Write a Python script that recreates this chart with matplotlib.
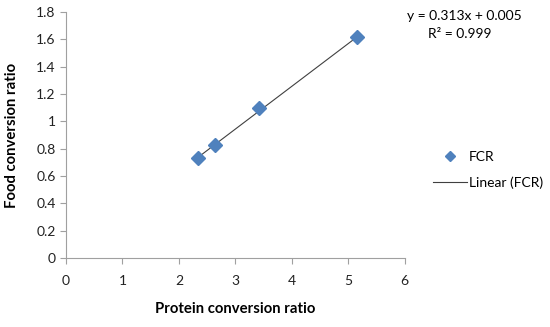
import matplotlib.pyplot as plt
import numpy as np

plt.rcParams['font.family'] = ['Lato', 'DejaVu Sans']

protein = [2.33, 2.63, 3.42, 5.16]
fcr = [0.73, 0.83, 1.10, 1.62]
slope, intercept = 0.313, 0.005
x_ticks = [0, 1, 2, 3, 4, 5, 6]
y_ticks = [0, 0.2, 0.4, 0.6, 0.8, 1, 1.2, 1.4, 1.6, 1.8]

fig = plt.figure(figsize=(5.5, 3.27), dpi=100)
ax = fig.add_axes([0.12, 0.211, 0.616, 0.752])

xl = np.array([min(protein), max(protein)])
ax.plot(xl, slope * xl + intercept, color="#404040", lw=0.8, label="Linear (FCR)")
ax.plot(protein, fcr, "D", color="#4F81BD", ms=7, mec="#4F81BD", label="FCR", zorder=3)

ax.set_xlim(0, 6)
ax.set_ylim(0, 1.8)
ax.set_xticks(x_ticks)
ax.set_yticks(y_ticks)
ax.set_yticklabels([f"{v:g}" for v in y_ticks])
for s in ["top", "right"]:
    ax.spines[s].set_visible(False)
for s in ["left", "bottom"]:
    ax.spines[s].set_color("#a0a0a0")
ax.tick_params(colors="#a0a0a0", labelcolor="#222222", labelsize=10, length=4, width=0.8)
ax.tick_params(axis="x", pad=8)

ax.set_xlabel("Protein conversion ratio", fontsize=10.7, fontweight="bold", labelpad=11)
ax.set_ylabel("Food conversion ratio", fontsize=10.7, fontweight="bold", labelpad=12)

fig.text(0.844, 0.951, "y = 0.313x + 0.005", ha="center", va="center", fontsize=10)
fig.text(0.835, 0.896, "R² = 0.999", ha="center", va="center", fontsize=10)

h, l = ax.get_legend_handles_labels()
fig.legend(h[::-1], l[::-1], loc="center left", bbox_to_anchor=(0.777, 0.48),
           borderaxespad=0, frameon=False, fontsize=10, handlelength=2.45,
           handletextpad=0.15, labelspacing=1.0, markerscale=0.75)

fig.savefig("out.png", dpi=100)
